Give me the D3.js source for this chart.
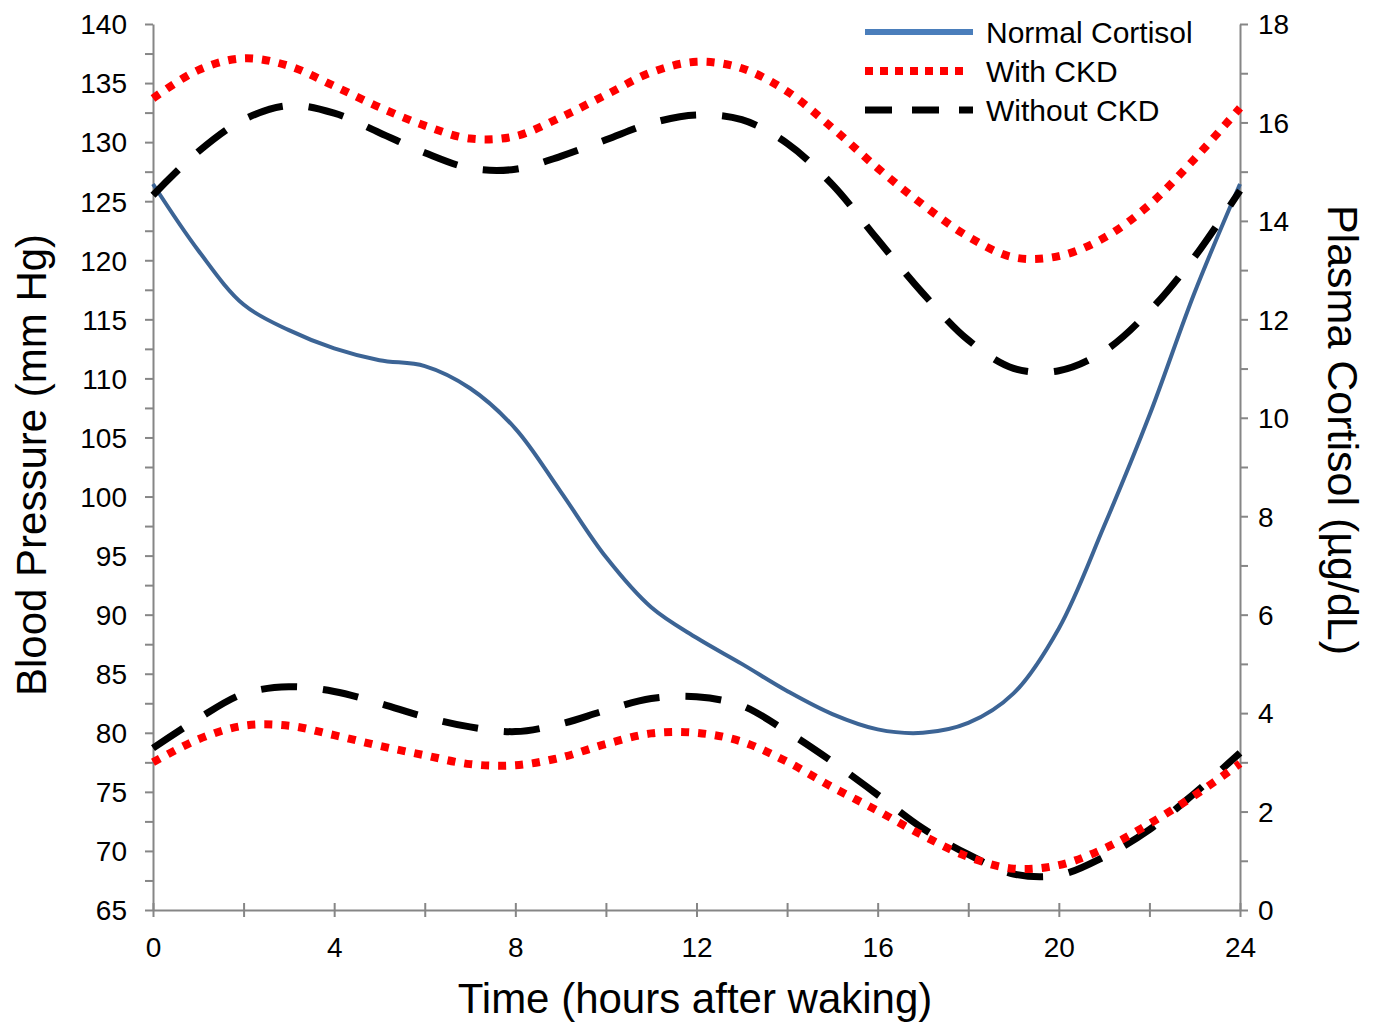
<!DOCTYPE html>
<html lang="en">
<head>
<meta charset="UTF-8">
<title>Blood pressure and cortisol over the day</title>
<script src="https://d3js.org/d3.v7.min.js"></script>
<style>
  body { margin: 0; background: #fff; }
  svg { display: block; font-family: "Liberation Sans", Arial, sans-serif; }
  .axis path, .axis line { stroke: #868686; stroke-width: 2; }
  .axis text { fill: #000; font-size: 28px; }
</style>
</head>
<body>
<svg width="1378" height="1030"></svg>
<script>
// hours after waking
const hours = [0,1,2,3,4,5,6,7,8,9,10,11,12,13,14,15,16,17,18,19,20,21,22,23,24];

// blood pressure, mm Hg (left axis)
const withCkdSys    = [133.7,136.1,137.1,136.45,134.75,132.95,131.4,130.3,130.5,132.1,134.0,135.9,136.8,136.25,134.3,131.2,127.8,124.7,122.0,120.25,120.35,121.9,124.7,128.6,132.9];
const withoutCkdSys = [125.5,129.2,131.9,133.1,132.45,130.8,129.1,127.8,127.7,128.8,130.2,131.6,132.3,131.9,129.9,126.4,121.75,117.2,113.25,110.85,110.65,112.3,115.7,120.3,125.9];
const withCkdDia    = [77.5,79.45,80.6,80.6,79.8,78.9,78.1,77.35,77.25,77.9,79.05,79.95,80.0,79.25,77.55,75.4,73.4,71.3,69.5,68.5,68.8,70.2,72.3,74.7,77.4];
const withoutCkdDia = [78.7,81.2,83.3,83.9,83.5,82.5,81.35,80.5,80.1,80.75,81.9,82.9,83.05,82.3,80.1,77.55,74.75,71.9,69.7,68.05,67.95,69.5,71.8,74.9,78.3];

// plasma cortisol, ug/dL (right axis)
const cortisol = [14.75,13.4,12.3,11.78,11.41,11.17,11.05,10.6,9.78,8.5,7.17,6.15,5.53,5.0,4.45,3.98,3.67,3.6,3.8,4.4,5.72,7.8,10.05,12.55,14.75];

const xTicks = [0,2,4,6,8,10,12,14,16,18,20,22,24];
const legendNames = ["Normal Cortisol", "With CKD", "Without CKD"];

const svg = d3.select("svg");
const plotL = 153, plotR = 1240, plotT = 24, plotB = 910;

const x = d3.scaleLinear().domain([0, 24]).range([plotL, plotR]);
const yBP = d3.scaleLinear().domain([65, 140]).range([plotB, plotT]);
const yC = d3.scaleLinear().domain([0, 18]).range([plotB, plotT]);

// axes
const gx = svg.append("g").attr("class", "axis")
  .attr("transform", "translate(0," + plotB + ")")
  .call(d3.axisBottom(x).tickValues(xTicks).tickSizeOuter(0)
    .tickFormat(d => d % 4 === 0 ? d : ""));
gx.selectAll(".tick line").attr("y1", -7).attr("y2", 7);
gx.selectAll(".tick text").attr("y", 47).attr("dy", 0);

const gl = svg.append("g").attr("class", "axis")
  .attr("transform", "translate(" + plotL + ",0)")
  .call(d3.axisLeft(yBP).tickValues(d3.range(65, 140.01, 2.5)).tickSize(8).tickSizeOuter(0)
    .tickFormat(d => d % 5 === 0 ? d : ""));
gl.selectAll(".tick text").attr("x", -26).attr("dy", "0.35em");

const gr = svg.append("g").attr("class", "axis")
  .attr("transform", "translate(" + plotR + ",0)")
  .call(d3.axisRight(yC).tickValues(d3.range(0, 18.01, 1)).tickSize(8).tickSizeOuter(0)
    .tickFormat(d => d % 2 === 0 ? d : ""));
gr.selectAll(".tick text").attr("x", 18).attr("dy", "0.35em");
svg.selectAll(".axis .domain").attr("fill", "none");

// axis titles
svg.append("text")
  .attr("transform", "translate(46,465) rotate(-90)")
  .attr("text-anchor", "middle").style("font-size", "42px")
  .text("Blood Pressure (mm Hg)");

svg.append("text")
  .attr("transform", "translate(1328,430) rotate(90)")
  .attr("text-anchor", "middle").style("font-size", "43px")
  .text("Plasma Cortisol (\u00b5g/dL)");

svg.append("text")
  .attr("x", 695).attr("y", 1013)
  .attr("text-anchor", "middle").style("font-size", "42px")
  .text("Time (hours after waking)");

// lines
const bpLine = d3.line().x((d, i) => x(hours[i])).y(d => yBP(d)).curve(d3.curveCatmullRom.alpha(0.5));
const cLine = d3.line().x((d, i) => x(hours[i])).y(d => yC(d)).curve(d3.curveCatmullRom.alpha(0.5));

svg.append("path").attr("d", cLine(cortisol))
  .attr("fill", "none").attr("stroke", "#3c6495").attr("stroke-width", 4);

[withoutCkdSys, withoutCkdDia].forEach(s => {
  svg.append("path").attr("d", bpLine(s))
    .attr("fill", "none").attr("stroke", "#000").attr("stroke-width", 7)
    .attr("stroke-dasharray", "36,26");
});

[withCkdSys, withCkdDia].forEach(s => {
  svg.append("path").attr("d", bpLine(s))
    .attr("fill", "none").attr("stroke", "#ff0000").attr("stroke-width", 8)
    .attr("stroke-dasharray", "8,9");
});

// legend
const legendStyles = [
  {stroke: "#4a7ebb", width: 6, dash: null, x2: 973},
  {stroke: "#ff0000", width: 8, dash: "8,7", x2: 968},
  {stroke: "#000", width: 7, dash: "27,20", x2: 973}
];
const lg = svg.append("g");
legendNames.forEach((name, i) => {
  const y = 32 + i * 39;
  const st = legendStyles[i];
  lg.append("line").attr("x1", 865).attr("x2", st.x2).attr("y1", y).attr("y2", y)
    .attr("stroke", st.stroke).attr("stroke-width", st.width)
    .attr("stroke-dasharray", st.dash);
  lg.append("text").attr("x", 986).attr("y", y).attr("dy", "0.35em")
    .style("font-size", "30px").text(name);
});
</script>
</body>
</html>
